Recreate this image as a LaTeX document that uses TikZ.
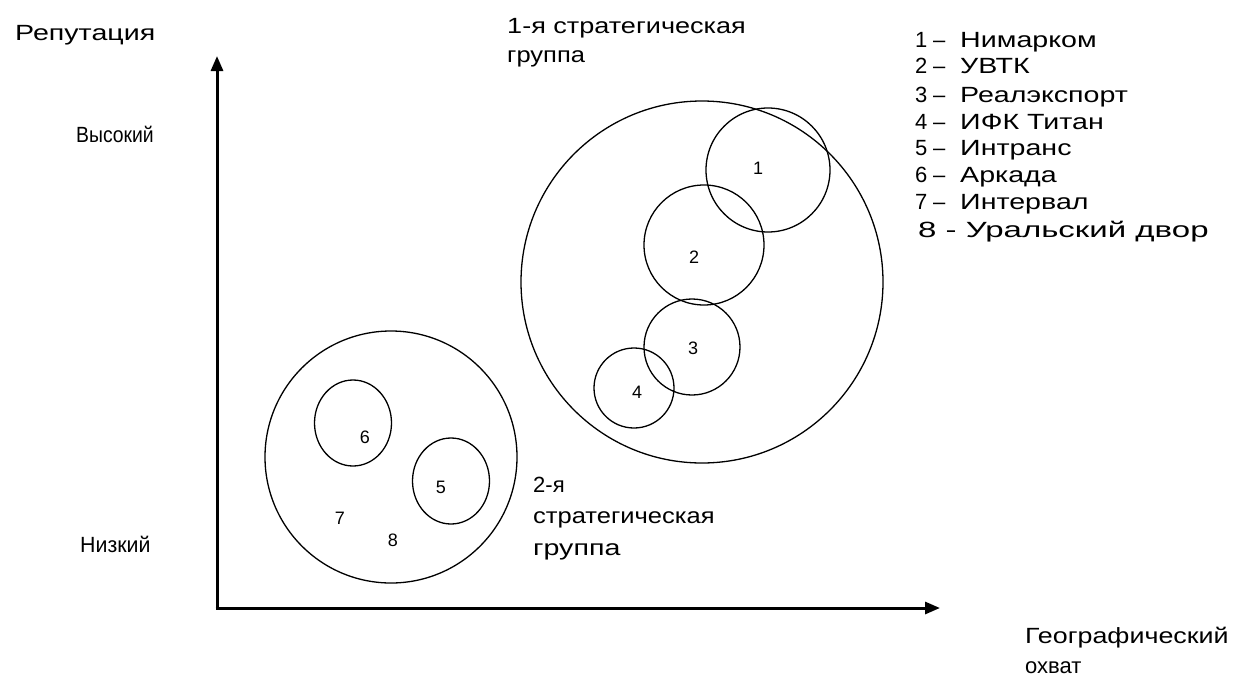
\documentclass[tikz,border=0pt]{standalone}
\usepackage{fontspec}
\setmainfont{Liberation Sans}
\usetikzlibrary{arrows.meta,shapes.geometric}
\newcommand{\wx}[2]{\scalebox{#1}[1]{#2}}
\begin{document}
\begin{tikzpicture}[x=1pt,y=-1pt,
  lbl/.style={anchor=west,inner sep=0pt,text height=16pt,text depth=5pt,font=\fontsize{22}{26}\selectfont},
  num/.style={inner sep=0pt,font=\fontsize{18}{22}\selectfont},
  ring/.style={draw,line width=1.3pt},
  axis/.style={line width=3pt,-{Triangle[length=15pt,width=12pt]}}]
\useasboundingbox (0,0) rectangle (1234,691);
\coordinate (o) at (217,608);
\coordinate (ytop) at (217,56);
\coordinate (xend) at (940,608);
\draw[axis] (217,609.5) -- (ytop);
\draw[axis] (215.5,608) -- (xend);
% labels
\node[lbl] (rep) at (15,35) {\wx{1.3}{Репутация}};
\node[lbl] (hi) at (76,137) {\wx{0.88}{Высокий}};
\node[lbl] (lo) at (80,547) {\wx{0.97}{Низкий}};
\node[lbl] (geo1) at (1025,638) {\wx{1.22}{Географический}};
\node[lbl] (geo2) at (1025,668) {охват};
\node[lbl] (g1a) at (507,28) {\wx{1.23}{1-я стратегическая}};
\node[lbl] (g1b) at (507,57) {\wx{1.16}{группа}};
\node[lbl] (g2a) at (533,487) {2-я};
\node[lbl] (g2b) at (533,518) {\wx{1.16}{стратегическая}};
\node[lbl] (g2c) at (533,550) {\wx{1.3}{группа}};
% legend
\foreach \n/\t/\yy in {1/Нимарком/42,2/УВТК/68,3/Реалэкспорт/97,4/ИФК Титан/124,5/Интранс/150,6/Аркада/177,7/Интервал/204}{
  \node[lbl] (ln\n) at (915,\yy) {\n};
  \node[lbl] (ld\n) at (933,\yy) {–};
  \node[lbl] (lt\n) at (960,\yy) {\wx{1.3}{\t}};
}
\node[lbl] (lt8) at (918,232) {\wx{1.5}{8 - Уральский двор}};
% group 1
\node[ring,circle,minimum size=362pt,inner sep=0pt] (G1) at (702,282) {};
\node[ring,circle,minimum size=124pt,inner sep=0pt] (c1) at (768,170) {};
\node[ring,circle,minimum size=120pt,inner sep=0pt] (c2) at (704,245) {};
\node[ring,circle,minimum size=96pt,inner sep=0pt] (c3) at (692,347) {};
\node[ring,circle,minimum size=80pt,inner sep=0pt] (c4) at (634,388) {};
\node[num] (n1) at (758,168) {1};
\node[num] (n2) at (694,257) {2};
\node[num] (n3) at (693,348) {3};
\node[num] (n4) at (637,392) {4};
% group 2
\node[ring,circle,minimum size=252pt,inner sep=0pt] (G2) at (391,457) {};
\node[ring,ellipse,minimum width=77pt,minimum height=86pt,inner sep=0pt] (c6) at (353,423) {};
\node[ring,ellipse,minimum width=77pt,minimum height=86pt,inner sep=0pt] (c5) at (451,481) {};
\node[num] (n6) at (365,437) {6};
\node[num] (n5) at (441,487) {5};
\node[num] (n7) at (340,518) {7};
\node[num] (n8) at (393,540) {8};
\end{tikzpicture}
\end{document}
